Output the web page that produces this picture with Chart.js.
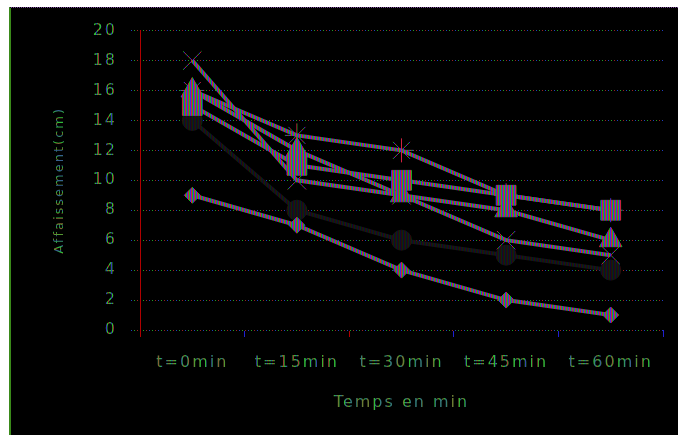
<!DOCTYPE html>
<html lang="fr">
<head>
  <meta charset="UTF-8" />
  <title>Affaissement en fonction du temps</title>
  <link rel="icon" href="data:,">
  <script src="https://cdn.jsdelivr.net/npm/chart.js"></script>
  <style>
    body {
      margin: 0;
      background: #fff;
      width: 678px;
      height: 435px;
      overflow: hidden;
    }
    #frame {
      position: absolute;
      left: 9px;
      top: 7px;
      width: 669px;
      height: 428px;
      background: #000;
      border-left: 2px solid #3a8a1a;
      border-top: 1px dotted #7a4a9a;
      box-sizing: border-box;
    }
    #chart {
      position: absolute;
      left: 11px;
      top: 8px;
    }
  </style>
</head>
<body>
  <div id="frame"></div>
  <canvas id="chart" width="667" height="427"></canvas>

  <script>
    // categories and series (cm)
    const categories = ['t=0min', 't=15min', 't=30min', 't=45min', 't=60min'];
    const serieLosange  = [9, 7, 4, 2, 1];
    const serieCarre    = [15, 11, 10, 9, 8];
    const serieTriangle = [16, 12, 9, 8, 6];
    const serieCroix    = [18, 10, 9, 6, 5];
    const serieEtoile   = [16, 13, 12, 9, 8];
    const serieRond     = [14, 8, 6, 5, 4];
    const yMin = 0, yMax = 20, yStep = 2;

    const canvas = document.getElementById('chart');
    const ctx = canvas.getContext('2d');

    // the picture is drawn in red/green/blue pixel stripes
    function stripes(cols) {
      const c = document.createElement('canvas');
      c.width = cols.length;
      c.height = 1;
      const g = c.getContext('2d');
      cols.forEach((col, i) => { g.fillStyle = col; g.fillRect(i, 0, 1, 1); });
      return ctx.createPattern(c, 'repeat');
    }

    const bright = stripes(['#d02040', '#20b020', '#4030e0']);
    const dim = stripes(['#2c0a0a', '#0a280a', '#0c0c32']);
    const gridPat = stripes(['#a02020', '#000', '#000', '#2040c0', '#000', '#000', '#20a020', '#000', '#000']);
    const textPat = stripes(['#30c030', '#a83838', '#30c030', '#30b840', '#3838b8']);
    const xTickCols = ['#b00000', '#2020d0', '#b00000', '#2020d0', '#2020d0', '#10a010'];

    const spacing = {
      id: 'spacing',
      beforeUpdate(chart) { chart.ctx.letterSpacing = '2px'; },
      beforeDraw(chart) { chart.ctx.letterSpacing = '2px'; }
    };

    function serie(data, style, radius, col) {
      return {
        data: data,
        borderColor: col,
        backgroundColor: col,
        borderWidth: 4,
        pointStyle: style,
        pointRadius: radius,
        pointBorderWidth: 1,
        pointBorderColor: col,
        pointBackgroundColor: col,
        tension: 0
      };
    }

    new Chart(ctx, {
      type: 'line',
      data: {
        labels: categories,
        datasets: [
          serie(serieLosange, 'rectRot', 8, bright),
          serie(serieTriangle, 'triangle', 13, bright),
          serie(serieCarre, 'rect', 14, bright),
          serie(serieCroix, 'crossRot', 13, bright),
          serie(serieEtoile, 'star', 12, bright),
          serie(serieRond, 'circle', 10, dim)
        ]
      },
      options: {
        responsive: false,
        animation: false,
        events: [],
        layout: { padding: { left: 0, top: 22, right: 8, bottom: 0 } },
        plugins: {
          legend: { display: false },
          tooltip: { enabled: false }
        },
        scales: {
          x: {
            offset: true,
            border: { display: false },
            grid: {
              offset: true,
              drawOnChartArea: false,
              drawTicks: true,
              tickLength: 7,
              color: c => xTickCols[c.index] || '#2020d0'
            },
            ticks: {
              color: textPat,
              font: { family: 'DejaVu Sans', size: 16 },
              padding: 16,
              maxRotation: 0,
              autoSkip: false
            },
            title: {
              display: true,
              text: 'Temps en min',
              color: textPat,
              font: { family: 'DejaVu Sans', size: 16 },
              padding: { top: 0, bottom: 23 }
            },
            afterFit(scale) { scale.height = 105; }
          },
          y: {
            min: yMin,
            max: yMax,
            border: { display: true, color: '#b00000', width: 1 },
            grid: {
              color: gridPat,
              lineWidth: 1,
              drawTicks: true,
              tickLength: 10
            },
            ticks: {
              stepSize: yStep,
              color: textPat,
              font: { family: 'DejaVu Sans', size: 16 },
              padding: 13
            },
            title: {
              display: true,
              text: 'Affaissement(cm)',
              color: textPat,
              font: { family: 'DejaVu Sans', size: 13 },
              padding: { top: 41, bottom: 0 }
            },
            afterFit(scale) { scale.width = 129; }
          }
        }
      },
      plugins: [spacing]
    });
  </script>
</body>
</html>
